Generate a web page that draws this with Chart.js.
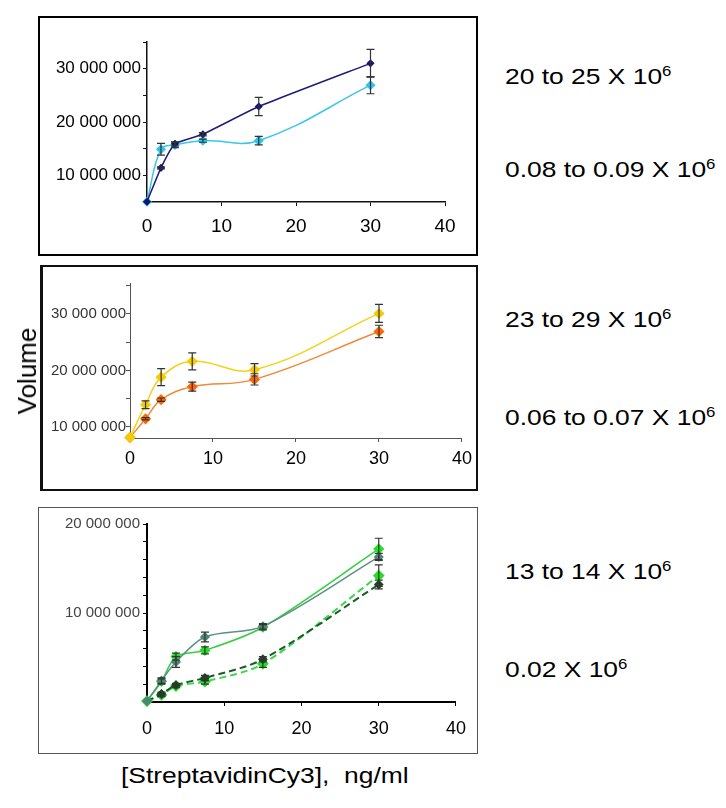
<!DOCTYPE html>
<html><head><meta charset="utf-8">
<script src="https://cdn.jsdelivr.net/npm/chart.js@4.4.1/dist/chart.umd.min.js"></script>
<style>
body{margin:0;width:726px;height:808px;background:#fff;position:relative;overflow:hidden;font-family:"Liberation Sans",Arial,sans-serif;}
.box{position:absolute;box-sizing:border-box;}
canvas{position:absolute;}
.t{position:absolute;white-space:pre;color:#000;font-size:22px;line-height:22px;transform-origin:0 50%;transform:scaleX(1.2);}
.t .s{font-size:14px;position:relative;top:-8px;}
</style></head>
<body>
<div class="box" style="left:38px;top:16px;width:440px;height:240px;border:2px solid #000;"></div>
<div class="box" style="left:40px;top:265px;width:438px;height:226px;border:2px solid #111;border-left-width:3px;"></div>
<div class="box" style="left:38px;top:507px;width:440px;height:247px;border:1px solid #555;"></div>
<canvas id="c1" width="440" height="240" style="left:38px;top:16px;"></canvas>
<canvas id="c2" width="438" height="226" style="left:40px;top:265px;"></canvas>
<canvas id="c3" width="440" height="247" style="left:38px;top:507px;"></canvas>
<div id="texts"></div>
<script>
// ---------- data ----------
const conc = [0, 1.875, 3.75, 7.5, 15, 30];
const xTicks = [0, 10, 20, 30, 40];

// panel 1
const p1Navy    = [5.05e6, 11.4e6, 15.9e6, 17.7e6, 22.9e6, 31.0e6];
const p1NavyErr = [0, 0.2e6, 0.4e6, 0.3e6, 1.7e6, 2.6e6];
const p1Cyan    = [5.05e6, 14.9e6, 15.7e6, 16.5e6, 16.5e6, 26.9e6];
const p1CyanErr = [0, 1.1e6, 0.5e6, 0.3e6, 0.8e6, 1.6e6];
const p1YTicks  = [5e6, 10e6, 15e6, 20e6, 25e6, 30e6, 35e6];
const p1YLabelVals = [10e6, 20e6, 30e6];
const p1YLabels    = ['10 000 000', '20 000 000', '30 000 000'];

// panel 2
const p2Yellow    = [8.1e6, 13.9e6, 18.8e6, 21.6e6, 20.1e6, 30.1e6];
const p2YellowErr = [0, 0.7e6, 1.5e6, 1.5e6, 1.1e6, 1.6e6];
const p2Orange    = [8.1e6, 11.4e6, 14.8e6, 17.1e6, 18.4e6, 26.9e6];
const p2OrangeErr = [0, 0.2e6, 0.3e6, 0.8e6, 1.0e6, 1.1e6];
const p2YTicks  = [10e6, 15e6, 20e6, 25e6, 30e6, 35e6];
const p2YLabelVals = [10e6, 20e6, 30e6];
const p2YLabels    = ['10 000 000', '20 000 000', '30 000 000'];

// panel 3
const p3Teal       = [0.1e6, 2.4e6, 4.5e6, 7.3e6, 8.5e6, 16.3e6];
const p3TealErr    = [0, 0.3e6, 0.6e6, 0.55e6, 0.3e6, 0.4e6];
const p3Green      = [0.1e6, 2.3e6, 5.1e6, 5.8e6, 8.4e6, 17.2e6];
const p3GreenErr   = [0, 0.3e6, 0.4e6, 0.4e6, 0.3e6, 1.2e6];
const p3DarkDash   = [0.1e6, 0.9e6, 1.9e6, 2.7e6, 4.8e6, 13.2e6];
const p3DarkDashErr= [0, 0.2e6, 0.2e6, 0.3e6, 0.3e6, 0.5e6];
const p3GreenDash  = [0.1e6, 0.8e6, 1.8e6, 2.3e6, 4.3e6, 14.2e6];
const p3GreenDashErr=[0, 0.2e6, 0.2e6, 0.3e6, 0.4e6, 1.2e6];
const p3YTicks  = [0, 2e6, 4e6, 6e6, 8e6, 10e6, 12e6, 14e6, 16e6, 18e6, 20e6];
const p3YLabelVals = [10e6, 20e6];
const p3YLabels    = ['10 000 000', '20 000 000'];

// side texts
const sideTexts = [
  ['20 to 25 X 10', '6', 77], ['0.08 to 0.09 X 10', '6', 170],
  ['23 to 29 X 10', '6', 320], ['0.06 to 0.07 X 10', '6', 418],
  ['13 to 14 X 10', '6', 572], ['0.02 X 10', '6', 670]
];
const yTitle = 'Volume';
const xTitle = '[StreptavidinCy3],  ng/ml';

// ---------- helpers ----------
const FAM = '"Liberation Sans", Arial, sans-serif';
const errPlugin = {
  id: 'errbars',
  afterDatasetsDraw(chart) {
    const ctx = chart.ctx, xs = chart.scales.x, ys = chart.scales.y;
    chart.data.datasets.forEach(ds => {
      if (!ds.errors) return;
      ds.data.forEach((p, j) => {
        const e = ds.errors[j]; if (!e) return;
        const x = xs.getPixelForValue(p.x);
        const y1 = ys.getPixelForValue(p.y + e), y2 = ys.getPixelForValue(p.y - e);
        ctx.save(); ctx.strokeStyle = ds.errColor || '#333'; ctx.lineWidth = 1.2;
        ctx.beginPath();
        ctx.moveTo(x, y1); ctx.lineTo(x, y2);
        ctx.moveTo(x - 4, y1); ctx.lineTo(x + 4, y1);
        ctx.moveTo(x - 4, y2); ctx.lineTo(x + 4, y2);
        ctx.stroke(); ctx.restore();
      });
    });
  }
};
function pts(vals) { return conc.map((c, i) => ({ x: c, y: vals[i] })); }
function ds(vals, errs, color, pointColor, opts) {
  return Object.assign({
    data: pts(vals), errors: errs, borderColor: color, backgroundColor: pointColor,
    pointBackgroundColor: pointColor, pointBorderColor: pointColor,
    pointStyle: 'rectRot', pointRadius: 3.5, borderWidth: 1.5, tension: 0.4,
    cubicInterpolationMode: 'default', clip: false
  }, opts || {});
}
function makeChart(id, datasets, cfg) {
  new Chart(document.getElementById(id), {
    type: 'line',
    data: { datasets },
    plugins: [errPlugin],
    options: {
      responsive: false, animation: false, devicePixelRatio: 1,
      layout: { padding: { left: 0, top: cfg.padTop, right: cfg.padRight, bottom: 0 } },
      plugins: { legend: { display: false }, tooltip: { enabled: false } },
      scales: {
        x: {
          type: 'linear', min: 0, max: 40,
          afterBuildTicks: s => { s.ticks = xTicks.map(v => ({ value: v })); },
          afterFit: s => { s.height = cfg.xHeight; },
          ticks: { color: '#000', font: { size: cfg.xFont, family: FAM }, padding: cfg.xPad, maxRotation: 0, autoSkip: false },
          grid: { drawOnChartArea: false, drawTicks: true, tickLength: 4, color: cfg.axisColor },
          border: { color: cfg.axisColor, width: cfg.axisWidth }
        },
        y: {
          type: 'linear', min: cfg.yMin, max: cfg.yMax,
          afterBuildTicks: s => { s.ticks = cfg.yTicks.map(v => ({ value: v })); },
          afterFit: s => { s.width = cfg.yWidth; },
          ticks: {
            color: cfg.yLabelColor, font: { size: cfg.yFont, family: FAM }, padding: cfg.yPad, autoSkip: false,
            callback: v => { const k = cfg.yLabelVals.indexOf(v); return k >= 0 ? cfg.yLabels[k] : ''; }
          },
          grid: { drawOnChartArea: false, drawTicks: true, tickLength: 4, color: cfg.axisColor },
          border: { color: cfg.axisColor, width: cfg.axisWidth }
        }
      }
    }
  });
}

makeChart('c1', [
  ds(p1Navy, p1NavyErr, '#1c1c7a', '#14146e', { tension: 0.15, pointRadius: 3 }),
  ds(p1Cyan, p1CyanErr, '#38c8e8', '#30c4ec', { pointRadius: 4 })
], { padTop: 26, padRight: 33, xHeight: 54, yWidth: 109, yMin: 5e6, yMax: 35e6, yTicks: p1YTicks,
     yLabelVals: p1YLabelVals, yLabels: p1YLabels, yLabelColor: '#000', yFont: 17, yPad: 2,
     xFont: 19, xPad: 9, axisColor: '#111', axisWidth: 1.5 });

makeChart('c2', [
  ds(p2Yellow, p2YellowErr, '#f2d21a', '#f5cc00', { pointRadius: 4.5 }),
  ds(p2Orange, p2OrangeErr, '#ee8a3a', '#ff6600', { pointRadius: 4.5 })
], { padTop: 18, padRight: 11, xHeight: 53, yWidth: 90, yMin: 8e6, yMax: 35.5e6, yTicks: p2YTicks,
     yLabelVals: p2YLabelVals, yLabels: p2YLabels, yLabelColor: '#333', yFont: 15, yPad: 0,
     xFont: 18, xPad: 6, axisColor: '#555', axisWidth: 1 });

makeChart('c3', [
  ds(p3Teal, p3TealErr, '#5e8f84', '#4f8577', { pointRadius: 4, tension: 0.3 }),
  ds(p3Green, p3GreenErr, '#30d040', '#22e022', { pointRadius: 4.5, tension: 0.3 }),
  ds(p3DarkDash, p3DarkDashErr, '#1e5a2a', '#1a4a22', { borderDash: [7, 4], borderWidth: 2, tension: 0.3 }),
  ds(p3GreenDash, p3GreenDashErr, '#3ad84a', '#22e022', { borderDash: [7, 4], borderWidth: 2, pointRadius: 4.5, tension: 0.3 })
], { padTop: 17, padRight: 20, xHeight: 52, yWidth: 109, yMin: 0, yMax: 20e6, yTicks: p3YTicks,
     yLabelVals: p3YLabelVals, yLabels: p3YLabels, yLabelColor: '#444', yFont: 15, yPad: 3,
     xFont: 18, xPad: 12, axisColor: '#000', axisWidth: 2 });

// ---------- texts ----------
const host = document.getElementById('texts');
sideTexts.forEach(([a, sup, cy]) => {
  const d = document.createElement('div');
  d.className = 't';
  d.style.left = '505px'; d.style.top = (cy - 11) + 'px';
  d.textContent = a;
  const s = document.createElement('span'); s.className = 's'; s.textContent = sup; d.appendChild(s);
  host.appendChild(d);
});
const v = document.createElement('div');
v.textContent = yTitle;
v.style.cssText = 'position:absolute;left:27px;top:371px;font-size:26px;line-height:26px;white-space:pre;transform:translate(-50%,-50%) rotate(-90deg);';
host.appendChild(v);
const xt = document.createElement('div');
xt.textContent = xTitle;
xt.style.cssText = 'position:absolute;left:121px;top:764px;font-size:22px;line-height:24px;white-space:pre;transform-origin:0 50%;transform:scaleX(1.2);';
host.appendChild(xt);
</script>
</body></html>
